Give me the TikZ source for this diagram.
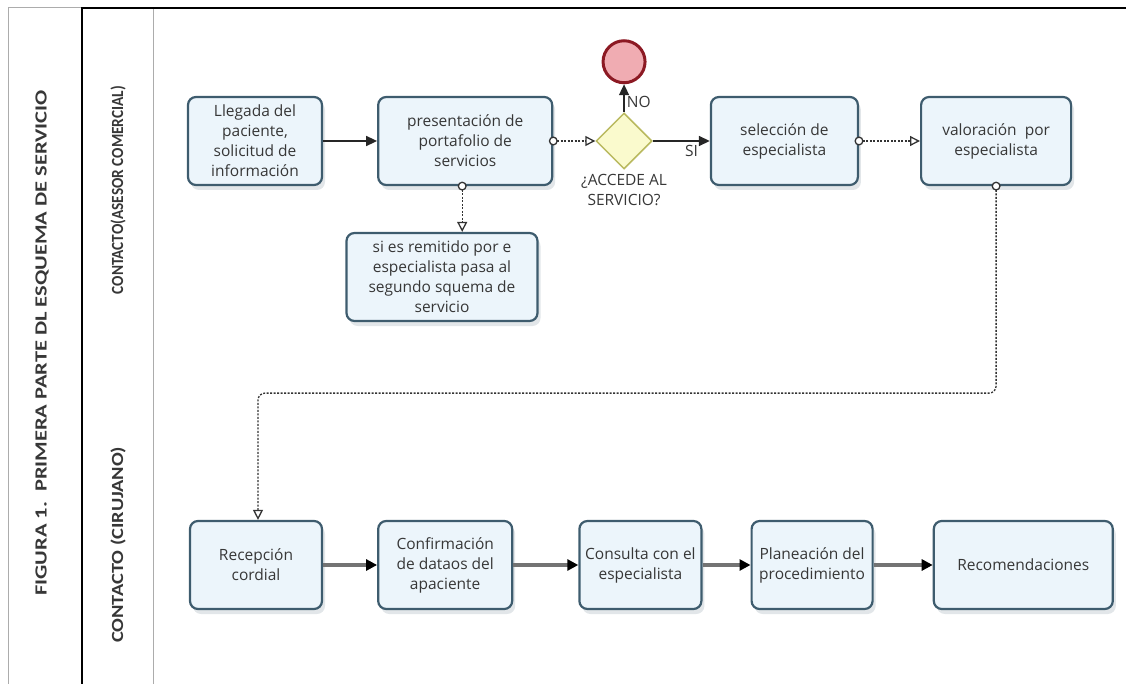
\documentclass[tikz,border=0pt]{standalone}
\usepackage{fontspec}
\setmainfont{Open Sans}
\newfontfamily\lanefont{Carlito}
\usetikzlibrary{positioning,arrows.meta,shapes.geometric,shadows}
\definecolor{taskline}{RGB}{62,92,110}
\definecolor{taskfill}{RGB}{236,245,251}
\definecolor{gatefill}{RGB}{250,250,205}
\definecolor{gateline}{RGB}{185,185,95}
\definecolor{endfill}{RGB}{240,172,178}
\definecolor{endline}{RGB}{140,25,35}
\definecolor{inkgray}{RGB}{55,55,55}
\tikzset{
  task/.style={draw=taskline,line width=2.2pt,rounded corners=8pt,fill=taskfill,align=center,
    font=\fontsize{15.5}{20}\selectfont,text=inkgray,minimum height=88pt,inner sep=2pt,
    drop shadow={shadow xshift=3pt,shadow yshift=-5pt,fill=taskline!30,opacity=.5}},
  gate/.style={diamond,draw=gateline,fill=gatefill,line width=1.5pt,minimum width=56pt,minimum height=56pt,inner sep=0pt},
  endev/.style={circle,draw=endline,fill=endfill,line width=3pt,minimum size=42pt,inner sep=0pt},
  lbl/.style={font=\fontsize{15.5}{20}\selectfont,text=inkgray,align=center,inner sep=1pt},
  lanelbl/.style={rotate=90,font=\lanefont\bfseries\fontsize{17}{20}\selectfont,text=inkgray},
  seq/.style={-{Triangle[length=11pt,width=10pt]},line width=1.6pt,draw=black!85},
  seqb/.style={-{Triangle[length=11pt,width=11pt,color=black]},line width=3.2pt,draw=black!55},
  assoc/.style={{Circle[length=9pt,fill=white]}-{Triangle[open,length=10pt,width=10pt]},
    dash pattern=on 2pt off 1.5pt,line width=1.3pt,draw=black!80,shorten <=-4.5pt},
  framethin/.style={draw=gray!65,line width=1pt},
  framethick/.style={draw=black,line width=2.6pt},
}
\begin{document}
\begin{tikzpicture}[x=1pt,y=-1pt]
  \useasboundingbox (0,0) rectangle (1126,684);
  % lanes
  \draw[framethin] (8,684) -- (8,8) -- (82,8);
  \draw[framethin] (153,8) -- (153,684);
  \draw[framethick] (82,684) -- (82,8) -- (1126,8);
  \node[lanelbl] (fig) at (42,343) {\scalebox{1.32}[1]{FIGURA 1.\ \ PRIMERA PARTE DL ESQUEMA DE SERVICIO}};
  \node[lanelbl] (lanea) at (118,190) {\scalebox{0.9}[1]{CONTACTO(ASESOR COMERCIAL)}};
  \node[lanelbl] (laneb) at (118,545) {\scalebox{1.2}[1]{CONTACTO (CIRUJANO)}};

  % asesor comercial
  \node[task,minimum width=134pt] (arrive) at (255,141) {Llegada del\\paciente,\\solicitud de\\información};
  \node[task,minimum width=174pt,right=54pt of arrive] (present) {presentación de\\portafolio de\\servicios};
  \node[gate,right=42pt of present] (gate) {};
  \node[endev,above=28pt of gate] (stop) {};
  \node[lbl,below=3pt of gate] (ask) {¿ACCEDE AL\\SERVICIO?};
  \node[task,minimum width=147pt,right=57pt of gate] (select) {selección de\\especialista};
  \node[task,minimum width=150pt,right=61pt of select] (assess) {valoración\ \ por\\especialista};
  \node[task,minimum width=191pt] (remit) at (442,277) {si es remitido por e\\especialista pasa al\\segundo squema de\\servicio};

  % cirujano
  \node[task,minimum width=132pt] (welcome) at (256,565) {Recepción\\cordial};
  \node[task,minimum width=134pt,right=54pt of welcome] (confirm) {Confirmación\\de dataos del\\apaciente};
  \node[task,minimum width=122pt,right=65pt of confirm] (consult) {Consulta con el\\especialista};
  \node[task,minimum width=121pt,right=48pt of consult] (plan) {Planeación del\\procedimiento};
  \node[task,minimum width=179pt,right=59pt of plan] (advise) {Recomendaciones};

  \draw[seq] (arrive) -- (present);
  \draw[assoc] (present.east) -- (gate.west);
  \draw[seq] (gate.north) -- node[lbl,pos=.35,right=1pt] {NO} (stop.south);
  \draw[seq] (gate.east) -- node[lbl,pos=.68,below=2pt] {SI} (select.west);
  \draw[assoc] (select.east) -- (assess.west);
  \draw[assoc] ([xshift=-3pt]present.south) -- ([xshift=-3pt]present.south |- remit.north);
  \draw[assoc,rounded corners=7pt] (assess.south) -- ++(0,207) -| ([xshift=2pt]welcome.north);

  \draw[seqb] (welcome) -- (confirm);
  \draw[seqb] (confirm) -- (consult);
  \draw[seqb] (consult) -- (plan);
  \draw[seqb] (plan) -- (advise);
\end{tikzpicture}
\end{document}
